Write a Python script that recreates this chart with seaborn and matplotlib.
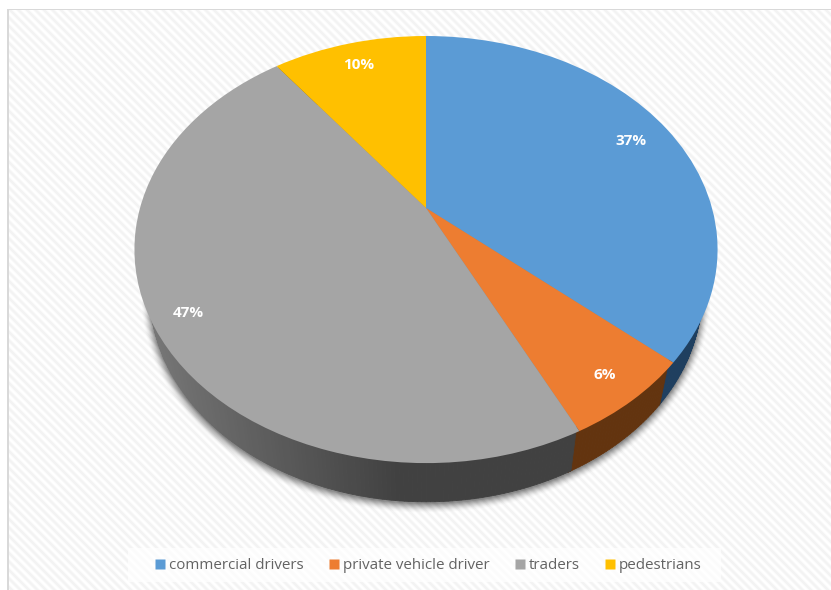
import numpy as np
import matplotlib
matplotlib.use("Agg")
import matplotlib.pyplot as plt
from matplotlib.transforms import Transform
from matplotlib.patches import Rectangle, Polygon
from matplotlib.lines import Line2D
import seaborn as sns

categories = ["commercial drivers", "private vehicle driver", "traders", "pedestrians"]
shares = [36.4, 6.3, 47.0, 10.3]
share_labels = ["37%", "6%", "47%", "10%"]
colors = ["#5b9bd5", "#ed7d31", "#a5a5a5", "#ffc000"]
wall_colors = ["#1f3f5f", "#63340f", "#484848", "#7f6000"]
label_radii = [0.84, 0.885, 0.888, 0.85]

sns.set_theme(style="white")
plt.rcParams["font.family"] = ["Open Sans", "DejaVu Sans"]

W, H = 831, 590
CX, CY0, C, A, K = 426.0, 208.0, 0.1944, -165.0, 286.0
XS, YS, YO = 0.945, 0.97, 52.7


class Perspective(Transform):
    """Maps the unit pie disc to pixel-like axes coordinates."""
    input_dims = output_dims = 2

    def transform_non_affine(self, pts):
        pts = np.asarray(pts, float)
        d = 1 + C * pts[:, 1]
        return np.column_stack([CX + K * pts[:, 0] / d, (A * pts[:, 1] + CY0) / d])


persp = Perspective()


def rim(theta_deg, r=1.0):
    t = np.radians(theta_deg)
    return persp.transform_non_affine(np.column_stack([r * np.cos(t), r * np.sin(t)]))


def lower(p):
    return np.column_stack([CX + (p[:, 0] - CX) * XS, p[:, 1] * YS + YO])


fig = plt.figure(figsize=(W / 100, H / 100), dpi=100)
fig.patch.set_facecolor("white")
ax = fig.add_axes([0, 0, 1, 1])
ax.set_xlim(0, W)
ax.set_ylim(H, 0)
ax.axis("off")

# striped chart background
yy, xx = np.mgrid[0:H, 0:W]
stripes = 0.5 + 0.5 * np.cos(2 * np.pi * (xx - yy) / 8.5)
bg = 1.0 - 0.05 * stripes
ax.imshow(bg, cmap="gray", vmin=0, vmax=1, extent=(0, W, H, 0), zorder=0,
          interpolation="bilinear", aspect="auto")
ax.set_xlim(0, W)
ax.set_ylim(H, 0)
ax.add_patch(Rectangle((0, 0), W, 8.5, fc="white", ec="none", zorder=0.5))
ax.add_patch(Rectangle((0, 0), 7, H, fc="white", ec="none", zorder=0.5))
ax.add_patch(Rectangle((7, 8.5), W - 7, 1.8, fc="#d9d9d9", ec="none", zorder=1))
ax.add_patch(Rectangle((7, 8.5), 1.8, H, fc="#d9d9d9", ec="none", zorder=1))

# soft shadow below the disc
full = rim(np.linspace(0, 360, 361))
low_full = lower(full)
for grow, a in zip(np.linspace(9, 0.5, 10),
                   [0.015, 0.02, 0.03, 0.04, 0.05, 0.06, 0.07, 0.08, 0.09, 0.10]):
    p = np.column_stack([CX + (low_full[:, 0] - CX) * (1 + grow / 280),
                         low_full[:, 1] + (low_full[:, 1] - 290) * grow / 210 + 1.5])
    ax.add_patch(Polygon(p, closed=True, fc="black", ec="none", alpha=a, zorder=2))

# pie top face
wedges, _, autotexts = ax.pie(
    shares, colors=colors, startangle=90, counterclock=False, radius=1,
    center=(0, 0), autopct="%.0f%%", pctdistance=1.0,
    frame=False, normalize=True,
    textprops=dict(color="white", fontsize=11, fontweight="bold"),
    wedgeprops=dict(lw=0),
)
ax.set_aspect("auto")
ax.set_xlim(0, W)
ax.set_ylim(H, 0)
ax.axis("off")
tr = persp + ax.transData
for w in wedges:
    w.set_transform(tr)
    w.set_zorder(5)
for t, txt, r in zip(autotexts, share_labels, label_radii):
    x, y = t.get_position()
    t.set_position((x * r, y * r))
    t.set_text(txt)
    t.set_transform(tr)
    t.set_zorder(6)

# side wall, one strip per fraction of a degree of every slice
edges = 90 - np.cumsum([0] + shares) * 3.6
for i, (a0, a1) in enumerate(zip(edges[:-1], edges[1:])):
    ths = np.array(np.arange(a0, a1 - 0.75, -0.75).tolist() + [a1])
    inner = rim(ths, 0.985)
    bot = lower(rim(ths))
    for j in range(len(ths) - 1):
        q = np.vstack([inner[j], inner[j + 1], bot[j + 1], bot[j]])
        c = wall_colors[i]
        if i == 2:
            mid_x = (bot[j, 0] - 150) / (400 - 150)
            g = float(np.clip(0.47 - 0.215 * mid_x, 0.255, 0.47))
            c = (g, g, g)
        ax.add_patch(Polygon(q, closed=True, fc=c, ec=c, lw=0.6, zorder=4))

# legend band
ax.add_patch(Rectangle((128, 548), 593, 34, fc="white", ec="none", alpha=0.75, zorder=2))
handles = [Line2D([], [], ls="", marker="s", ms=6.9, mfc=c, mec="none") for c in colors]
leg = ax.legend(handles, categories, loc="center", bbox_to_anchor=(428, 565.5),
                bbox_transform=ax.transData, ncol=4, frameon=False, fontsize=10.9,
                handlelength=0.75, handletextpad=0.19, columnspacing=1.65,
                labelcolor="#636363")
leg.set_zorder(7)

fig.savefig("out.png", dpi=100)
